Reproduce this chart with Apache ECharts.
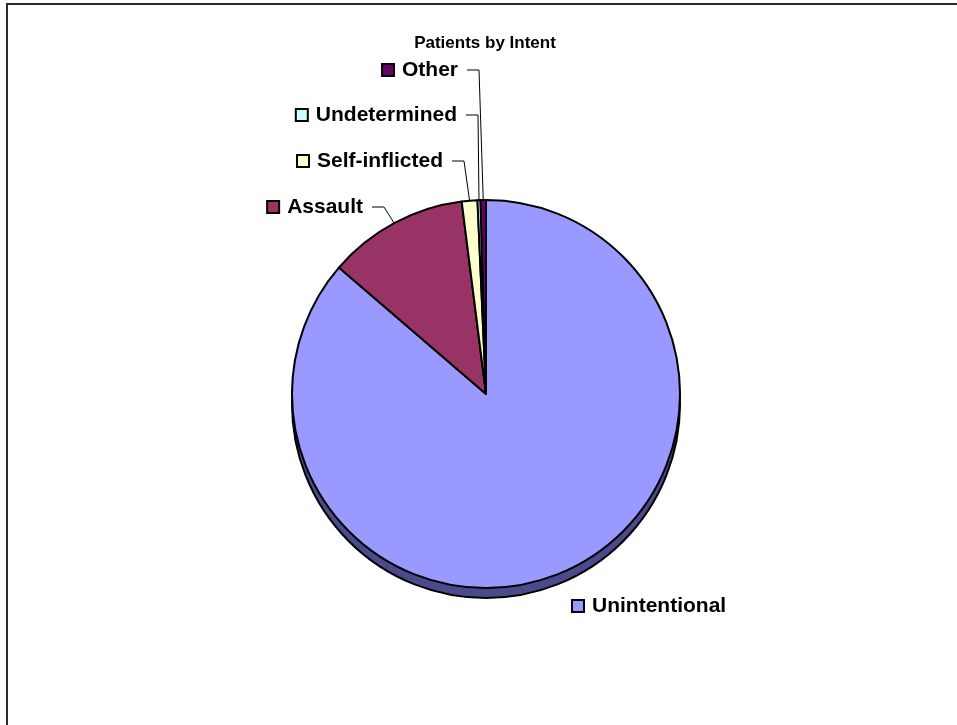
<!DOCTYPE html>
<html>
<head>
<meta charset="utf-8">
<style>
  html, body { margin: 0; padding: 0; background: #fff; }
  #pie-container { width: 957px; height: 725px; }
</style>
<script src="https://cdn.jsdelivr.net/npm/echarts@6/dist/echarts.min.js"></script>
</head>
<body>
<div id="pie-container"></div>
<script>
// data (percent of patients)
var categories = ['Unintentional', 'Assault', 'Self-inflicted', 'Undetermined', 'Other'];
var shares = [86.3, 11.7, 1.3, 0.25, 0.45];

var sliceColors = ['#9999ff', '#993366', '#ffffcc', '#ccffff', '#660066'];
// where each label sits: [x, y, align]
var labelAnchors = [
  [573, 606, 'left'],
  [363, 207, 'right'],
  [443, 161, 'right'],
  [457, 115, 'right'],
  [458, 70, 'right'],
];
var font = "'Liberation Sans', Arial, sans-serif";

var dom = document.getElementById('pie-container');
var myChart = echarts.init(dom, null, {
  renderer: 'canvas',
  useDirtyRect: false,
});

var rich = {
  gap: { width: 9 },
  txt: { fontSize: 21, fontWeight: 'bold', color: '#000', fontFamily: font },
};
sliceColors.forEach(function (c, i) {
  rich['k' + i] = { width: 10, height: 10, backgroundColor: c, borderColor: '#000', borderWidth: 2 };
});

var pieData = categories.map(function (name, i) {
  var item = { name: name, value: shares[i], itemStyle: { color: sliceColors[i] } };
  if (i === 0) item.labelLine = { show: false };
  return item;
});

var option = {
  animation: false,
  graphic: [
    {
      type: 'rect',
      shape: { x: 7, y: 4, width: 980, height: 760 },
      style: { fill: 'none', stroke: '#2a2a2a', lineWidth: 2 },
      silent: true,
    },
  ],
  title: {
    text: 'Patients by Intent',
    left: 480,
    top: 30,
    textAlign: 'center',
    textStyle: { fontSize: 17, fontWeight: 'bold', color: '#000', fontFamily: font },
  },
  series: [
    {
      // 3D depth under the pie
      type: 'pie',
      silent: true,
      center: [486, 404],
      radius: 194,
      label: { show: false },
      labelLine: { show: false },
      itemStyle: { color: '#4b4b8c', borderColor: '#000', borderWidth: 2 },
      data: [{ value: 1, name: 'depth' }],
    },
    {
      name: 'Patients',
      type: 'pie',
      center: [486, 394],
      radius: 194,
      startAngle: 90,
      clockwise: true,
      avoidLabelOverlap: false,
      itemStyle: { borderColor: '#000', borderWidth: 2 },
      label: {
        show: true,
        position: 'outside',
        formatter: function (p) {
          return '{k' + p.dataIndex + '|}{gap|}{txt|' + p.name + '}';
        },
        rich: rich,
      },
      labelLine: {
        show: true,
        length: 10,
        length2: 10,
        lineStyle: { color: '#000', width: 1 },
      },
      labelLayout: function (params) {
        var a = labelAnchors[params.dataIndex];
        var out = { x: a[0], y: a[1], align: a[2], verticalAlign: 'middle' };
        if (params.labelLinePoints && a[2] === 'right') {
          var e = params.labelLinePoints[0];
          out.labelLinePoints = [[e[0], e[1]], [a[0] + 21, a[1]], [a[0] + 9, a[1]]];
        }
        return out;
      },
      data: pieData,
    },
  ],
};

if (option && typeof option === 'object') {
  myChart.setOption(option);
}

window.addEventListener('resize', myChart.resize);
</script>
</body>
</html>
